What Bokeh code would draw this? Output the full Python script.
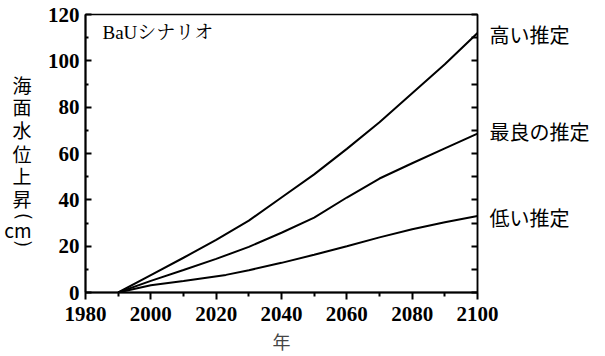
from bokeh.plotting import figure
from bokeh.models import Label, LinearAxis, FixedTicker, Range1d
from bokeh.embed import file_html
from bokeh.resources import INLINE

# data
years = [1990, 2000, 2010, 2020, 2030, 2040, 2050, 2060, 2070, 2080, 2090, 2100]
high = [0, 7.5, 15, 22.7, 31, 41, 51, 62, 73.5, 86, 98.5, 112]
best = [0, 5, 9.7, 14.5, 19.7, 25.8, 32.3, 41, 49.2, 55.8, 62.2, 68.6]
low_years = [1990, 2000, 2010, 2023, 2030, 2040, 2050, 2060, 2070, 2080, 2090, 2100]
low = [0, 3.1, 5, 7.6, 9.6, 12.8, 16.3, 20, 23.8, 27.3, 30.3, 33]
x_ticks = [1980, 2000, 2020, 2040, 2060, 2080, 2100]
y_ticks = [0, 20, 40, 60, 80, 100, 120]
series_labels = ["高い推定", "最良の推定", "低い推定"]
series_label_at = [111.5, 69.5, 32.3]
ylabel_chars = ["海", "面", "水", "位", "上", "昇", "⏜", "cm", "⏝"]
ylabel_at = [89.9, 80.4, 70.5, 60.2, 50.3, 40.4, 30.1, 27.1, 26.2]
scenario = "BaUシナリオ"
xlabel = "年"

SERIF = "Liberation Serif, Noto Serif CJK JP, Noto Sans CJK JP"
CJK = "Noto Sans CJK JP"

p = figure(width=605, height=356, x_range=Range1d(1980, 2100), y_range=Range1d(0, 120),
           output_backend="svg", toolbar_location=None,
           min_border_left=85, min_border_right=128, min_border_top=14, min_border_bottom=63)
p.xgrid.visible = False
p.ygrid.visible = False
p.outline_line_color = "black"
p.outline_line_width = 1.5
p.background_fill_color = "white"
p.border_fill_color = "white"

for xs, ys in [(years, high), (years, best), (low_years, low)]:
    p.line(xs, ys, line_color="black", line_width=2)

# bottom axis
xa = p.xaxis[0]
xa.ticker = FixedTicker(ticks=x_ticks, minor_ticks=list(range(1990, 2100, 20)))
xa.major_tick_in = 0
xa.major_tick_out = 7
xa.minor_tick_in = 0
xa.minor_tick_out = 4
xa.axis_line_width = 2
xa.major_tick_line_width = 2
xa.minor_tick_line_width = 2
xa.major_label_text_font = SERIF
xa.major_label_text_font_size = "21px"
xa.major_label_text_font_style = "bold"
xa.major_label_text_color = "black"
xa.major_label_standoff = 7
xa.axis_label = xlabel
xa.axis_label_text_font = CJK
xa.axis_label_text_font_size = "18px"
xa.axis_label_text_font_style = "normal"
xa.axis_label_standoff = 4

# left axis
ya = p.yaxis[0]
ya.ticker = FixedTicker(ticks=y_ticks, minor_ticks=list(range(10, 120, 20)))
ya.major_tick_in = 6
ya.major_tick_out = 0
ya.minor_tick_in = 3
ya.minor_tick_out = 0
ya.axis_line_width = 2
ya.major_tick_line_width = 2
ya.minor_tick_line_width = 2
ya.major_label_text_font = SERIF
ya.major_label_text_font_size = "21px"
ya.major_label_text_font_style = "bold"
ya.major_label_text_color = "black"
ya.major_label_standoff = 6

# outer left axis carrying the vertically stacked title characters
ta = LinearAxis(ticker=FixedTicker(ticks=ylabel_at))
ta.major_label_overrides = {v: t for v, t in zip(ylabel_at, ylabel_chars)}
ta.axis_line_color = None
ta.major_tick_line_color = None
ta.minor_tick_line_color = None
ta.major_tick_in = 0
ta.major_tick_out = 0
ta.major_label_standoff = 13
ta.major_label_text_font = CJK
ta.major_label_text_font_size = "19px"
ta.major_label_text_color = "black"
p.add_layout(ta, "left")

# right axis: inward ticks only
rticks = list(range(0, 121, 10))
ra = LinearAxis(ticker=FixedTicker(ticks=rticks))
ra.major_tick_in = 6
ra.major_tick_out = 0
ra.minor_tick_in = 0
ra.minor_tick_out = 0
ra.axis_line_width = 1.5
ra.major_tick_line_width = 2
ra.major_label_overrides = {t: "" for t in rticks}
ra.major_label_standoff = 0
p.add_layout(ra, "right")

# right axis: series names
la = LinearAxis(ticker=FixedTicker(ticks=series_label_at))
la.major_label_overrides = {v: t for v, t in zip(series_label_at, series_labels)}
la.axis_line_color = None
la.major_tick_line_color = None
la.minor_tick_line_color = None
la.major_tick_in = 0
la.major_tick_out = 0
la.major_label_standoff = 12
la.major_label_text_font = CJK
la.major_label_text_font_size = "20px"
la.major_label_text_color = "black"
p.add_layout(la, "right")

# scenario label inside the frame (canvas coordinates)
p.add_layout(Label(x=102, y=32, x_units="canvas", y_units="canvas", text=scenario,
                   text_font=SERIF, text_font_size="19px", text_baseline="middle",
                   text_align="left", text_color="black"))

open("out.html", "w").write(file_html(p, INLINE))
